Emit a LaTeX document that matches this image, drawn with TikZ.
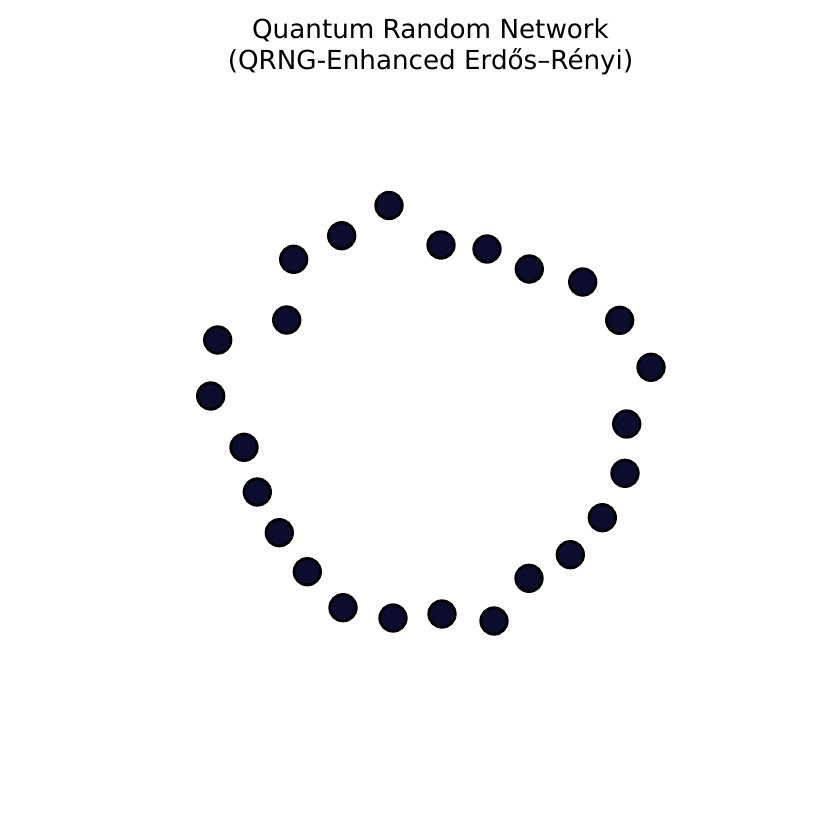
\documentclass[tikz,border=0pt]{standalone}
\usepackage{fontspec}
\setmainfont{DejaVu Sans}
\usepackage{xcolor}
\usepackage{tikz}
\usetikzlibrary{positioning}

\definecolor{qnode}{RGB}{11,12,46}

\begin{document}
\begin{tikzpicture}[
    x=1pt, y=-1pt,
    qubit/.style={circle, draw=black, line width=2.8pt, fill=qnode, minimum size=26.5pt, inner sep=0pt},
    headline/.style={align=center, inner sep=0pt, font=\fontsize{26.2}{31}\selectfont}
]
    \useasboundingbox (0,0) rectangle (840,840);

    % Title
    \node[headline, anchor=north] (title) at (430.5, 18) {Quantum Random Network\\(QRNG-Enhanced Erdős–Rényi)};

    % Upper arc
    \node[qubit] (v1) at (389, 205.5) {};
    \node[qubit] (v2) at (341.7, 235.7) {};
    \node[qubit] (v3) at (293.7, 259.3) {};
    \node[qubit] (v4) at (441, 245) {};
    \node[qubit] (v5) at (487, 249) {};
    \node[qubit] (v6) at (529.3, 269) {};
    \node[qubit] (v7) at (582.7, 282) {};
    \node[qubit] (v8) at (619.7, 320.3) {};
    \node[qubit] (v9) at (651, 367.3) {};

    % Right side
    \node[qubit] (v10) at (626.7, 424) {};
    \node[qubit] (v11) at (625, 473.3) {};
    \node[qubit] (v12) at (602.3, 517.7) {};
    \node[qubit] (v13) at (570.3, 554.7) {};
    \node[qubit] (v14) at (529, 578.3) {};

    % Bottom
    \node[qubit] (v15) at (494, 621) {};
    \node[qubit] (v16) at (442, 614) {};
    \node[qubit] (v17) at (393, 618) {};
    \node[qubit] (v18) at (343, 607.7) {};

    % Left side
    \node[qubit] (v19) at (307.3, 571.7) {};
    \node[qubit] (v20) at (279.3, 532.7) {};
    \node[qubit] (v21) at (257.3, 492) {};
    \node[qubit] (v22) at (244, 447.3) {};
    \node[qubit] (v23) at (210.7, 396) {};
    \node[qubit] (v24) at (217.7, 340) {};
    \node[qubit] (v25) at (286.7, 320) {};
\end{tikzpicture}
\end{document}
